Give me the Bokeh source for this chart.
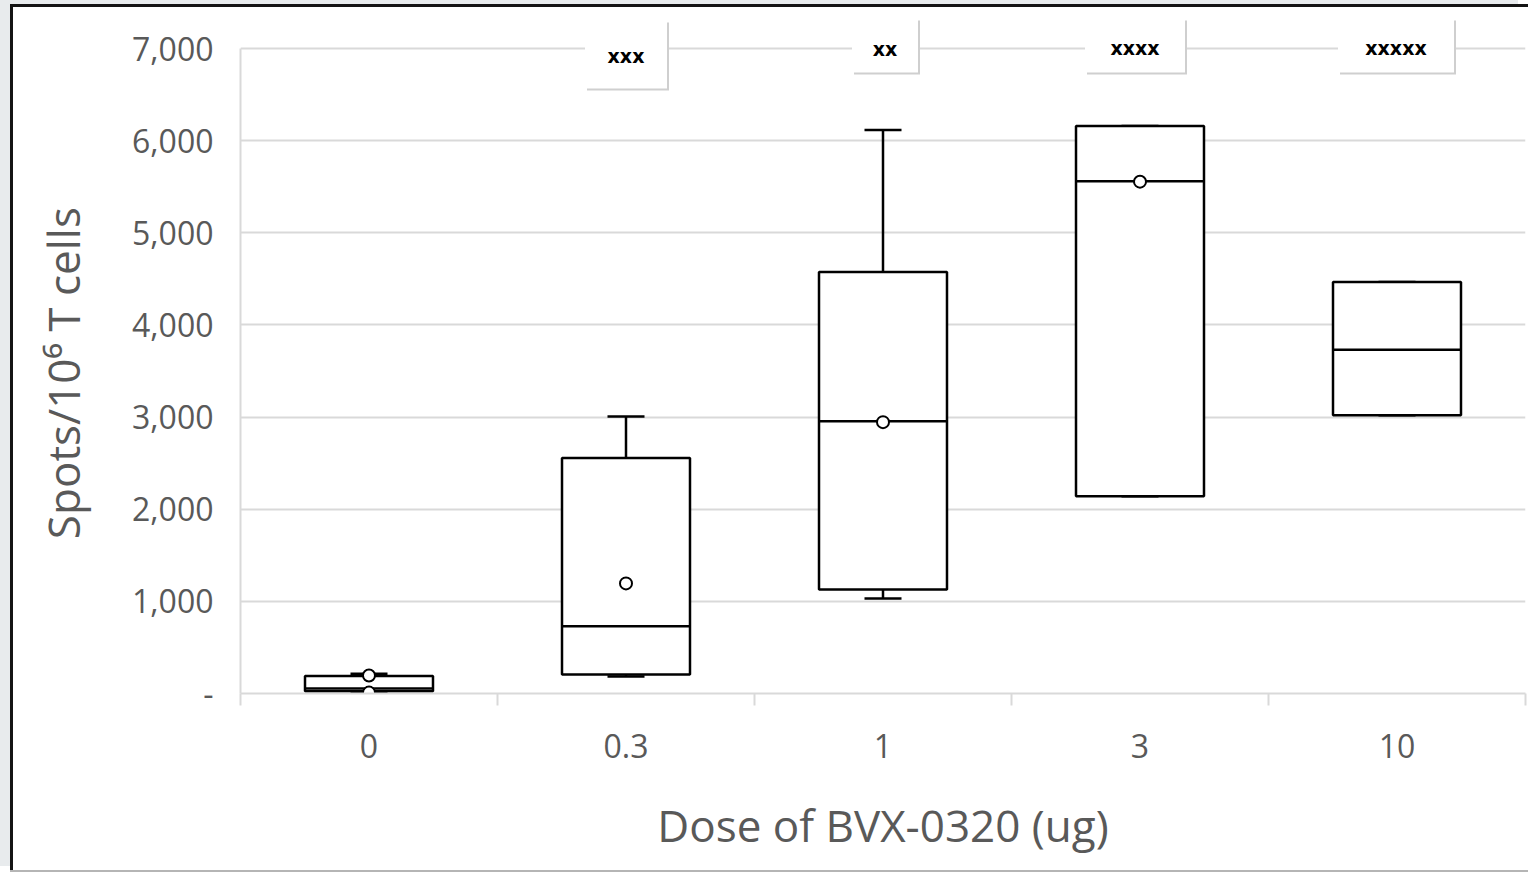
from bokeh.plotting import figure
from bokeh.models import FixedTicker, NumeralTickFormatter, Range1d
from bokeh.embed import file_html
from bokeh.resources import INLINE
from bokeh.core.properties import value

# ---------------- data ----------------
doses = ["0", "0.3", "1", "3", "10"]
q1 = [25, 206, 1130, 2140, 3020]
median = [55, 730, 2955, 5560, 3730]
q3 = [190, 2555, 4575, 6160, 4465]
whisker_low = [20, 185, 1030, 2140, 3020]
whisker_high = [215, 3005, 6115, 6160, 4465]
mean_doses = ["0", "0.3", "1", "3"]
mean_values = [195, 1195, 2945, 5555]
outlier_doses = ["0"]
outlier_values = [10]
sig_doses = ["0.3", "1", "3", "10"]
sig_labels = ["xxx", "xx", "xxxx", "xxxxx"]
y_ticks = [0, 1000, 2000, 3000, 4000, 5000, 6000, 7000]

# ---------------- styling ----------------
FONT = "Open Sans"
TXT = "#595959"
GRID = "#d9d9d9"
PX_PER_UNIT = 0.09214          # vertical pixels per data unit
CAT_PX = 257.0                 # horizontal pixels per category
BOX_HALF = 0.249
CAP_HALF = 0.072

pos = {d: i + 1 for i, d in enumerate(doses)}
xs = [pos[d] for d in doses]

W, H = 1518, 866
p = figure(width=W, height=H, output_backend="svg", toolbar_location=None,
           x_range=Range1d(0.5, 5.5), y_range=Range1d(0, 675 / PX_PER_UNIT),
           min_border_left=227, min_border_right=6, min_border_top=11,
           min_border_bottom=180)
p.outline_line_color = None
p.background_fill_color = "white"
p.border_fill_color = "white"
p.styles = {
    "margin-left": "10px",
    "margin-top": "4px",
    "border-left": "3px solid #141414",
    "border-top": "3px solid #141414",
    "box-shadow": "-10px -4px 0 0 #e8ebed, 0 2px 0 0 #b5b5b5",
}

# grid
p.xgrid.grid_line_color = None
p.ygrid.grid_line_color = GRID
p.ygrid.grid_line_width = 2
p.ygrid.ticker = FixedTicker(ticks=y_ticks)

# y axis
ya = p.yaxis[0]
ya.ticker = FixedTicker(ticks=y_ticks)
ya.formatter = NumeralTickFormatter(format="0,0")
ya.major_label_overrides = {0: "-"}
ya.bounds = (0, 7000)
ya.axis_line_color = GRID
ya.axis_line_width = 2
ya.major_tick_line_color = None
ya.minor_tick_line_color = None
ya.major_label_standoff = 21
ya.major_label_text_font = FONT
ya.major_label_text_font_size = "32px"
ya.major_label_text_color = TXT
# trailing no-break spaces centre the title on the 0-7,000 span rather than the whole frame
ya.axis_label = "Spots/10\u2076 T cells" + "\u00a0" * 3
ya.axis_label_text_font = FONT
ya.axis_label_text_font_size = "44px"
ya.axis_label_text_font_style = "normal"
ya.axis_label_text_color = TXT
ya.axis_label_standoff = 36

# x axis
xa = p.xaxis[0]
xa.ticker = FixedTicker(ticks=xs, minor_ticks=[0.5, 1.5, 2.5, 3.5, 4.5, 5.5])
xa.major_label_overrides = {pos[d]: d for d in doses}
xa.axis_line_color = GRID
xa.axis_line_width = 2
xa.major_tick_line_color = None
xa.major_tick_out = 0
xa.minor_tick_line_color = GRID
xa.minor_tick_line_width = 2
xa.minor_tick_out = 12
xa.minor_tick_in = 0
xa.major_label_standoff = 28
xa.major_label_text_font = FONT
xa.major_label_text_font_size = "32px"
xa.major_label_text_color = TXT
xa.axis_label = "Dose of BVX-0320 (ug)"
xa.axis_label_text_font = FONT
xa.axis_label_text_font_size = "44px"
xa.axis_label_text_font_style = "normal"
xa.axis_label_text_color = TXT
xa.axis_label_standoff = 34

# ---------------- boxes ----------------
LW = 2.5
p.segment(x0=xs, y0=q3, x1=xs, y1=whisker_high, line_color="black", line_width=LW)
p.segment(x0=xs, y0=whisker_low, x1=xs, y1=q1, line_color="black", line_width=LW)
p.segment(x0=[x - CAP_HALF for x in xs], y0=whisker_high,
          x1=[x + CAP_HALF for x in xs], y1=whisker_high, line_color="black", line_width=LW)
p.segment(x0=[x - CAP_HALF for x in xs], y0=whisker_low,
          x1=[x + CAP_HALF for x in xs], y1=whisker_low, line_color="black", line_width=LW)
p.quad(left=[x - BOX_HALF for x in xs], right=[x + BOX_HALF for x in xs],
       bottom=q1, top=q3, fill_color="white", line_color="black", line_width=LW)
p.segment(x0=[x - BOX_HALF for x in xs], y0=median,
          x1=[x + BOX_HALF for x in xs], y1=median, line_color="black", line_width=LW)
p.scatter(x=[pos[d] for d in mean_doses], y=mean_values, marker="circle", size=12,
          fill_color="white", line_color="black", line_width=2)
p.scatter(x=[pos[d] for d in outlier_doses], y=outlier_values, marker="circle", size=12,
          fill_color="white", line_color="black", line_width=2)

# ---------------- significance label boxes ----------------
def ydata(px_above_zero):
    return px_above_zero / PX_PER_UNIT

box_shift_px = [0, 2, -5, -1]
sx = [pos[d] + s / CAT_PX for d, s in zip(sig_doses, box_shift_px)]
box_w = [82, 66, 100, 116]
box_h = [68, 54, 54, 54]
box_cy = [ydata(639), ydata(648), ydata(648), ydata(648)]
txt_cy = [ydata(638), ydata(645), ydata(646), ydata(646)]
dx = 2 / CAT_PX
dy = ydata(2)
p.rect(x=[x + dx for x in sx], y=[c - dy for c in box_cy], width=box_w, height=box_h,
       width_units="screen", height_units="screen", fill_color="#cfcfcf", line_color=None)
p.rect(x=sx, y=box_cy, width=box_w, height=box_h,
       width_units="screen", height_units="screen", fill_color="white", line_color=None)
p.text(x=sx, y=txt_cy, text=sig_labels, text_font=value("DejaVu Sans"),
       text_font_style="bold", text_font_size="19px", text_color="black",
       text_align="center", text_baseline="middle")

open("out.html", "w").write(file_html(p, INLINE))
